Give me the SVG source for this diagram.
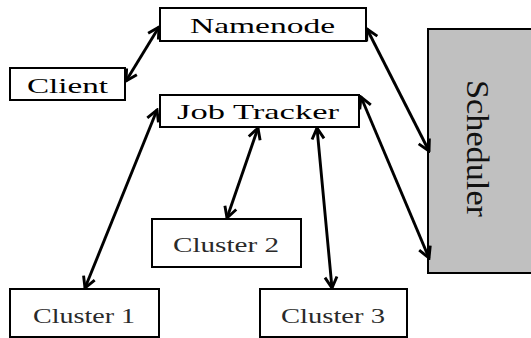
<svg xmlns="http://www.w3.org/2000/svg" width="531" height="338" viewBox="0 0 531 338">
  <style>
    .box { fill: #ffffff; stroke: #000000; stroke-width: 2; }
    .sched { fill: #c0c0c0; stroke: #000000; stroke-width: 2; }
    text { font-family: 'Liberation Serif', 'Times New Roman', serif; }
    .head-label { font-size: 22px; fill: #000000; }
    .cl-label { font-size: 20px; fill: #2a2a2a; }
    .vert { font-size: 32px; fill: #111111; }
    .conn { stroke: #000000; stroke-width: 2.9; fill: none; marker-start: url(#head); marker-end: url(#head); }
  </style>
  <defs>
    <!-- open chevron head, used at both ends of every connector -->
    <marker id="head" viewBox="0 0 16 16" refX="14" refY="8" markerWidth="16" markerHeight="16" markerUnits="userSpaceOnUse" orient="auto-start-reverse">
      <path d="M3,2 L14,8 L3,14" fill="none" stroke="#000000" stroke-width="2.9" stroke-linejoin="miter"/>
    </marker>
  </defs>

  <g id="scheduler">
    <rect class="sched" x="428" y="29" width="104" height="244"/>
    <text class="vert" transform="translate(467,80) rotate(90)" textLength="137" lengthAdjust="spacingAndGlyphs">Scheduler</text>
  </g>

  <g id="namenode">
    <rect class="box" x="160" y="8" width="206" height="33"/>
    <text class="head-label" x="190" y="33" textLength="145" lengthAdjust="spacingAndGlyphs">Namenode</text>
  </g>

  <g id="client">
    <rect class="box" x="10" y="68" width="115" height="32"/>
    <text class="head-label" x="27" y="93" textLength="81" lengthAdjust="spacingAndGlyphs">Client</text>
  </g>

  <g id="jobtracker">
    <rect class="box" x="160" y="95" width="199" height="32"/>
    <text class="head-label" x="177" y="119" textLength="162" lengthAdjust="spacingAndGlyphs">Job Tracker</text>
  </g>

  <g id="cluster2">
    <rect class="box" x="152" y="219" width="149" height="48"/>
    <text class="cl-label" x="173" y="252" textLength="106" lengthAdjust="spacingAndGlyphs">Cluster 2</text>
  </g>

  <g id="cluster1">
    <rect class="box" x="10" y="289" width="149" height="48"/>
    <text class="cl-label" x="33" y="323" textLength="102" lengthAdjust="spacingAndGlyphs">Cluster 1</text>
  </g>

  <g id="cluster3">
    <rect class="box" x="260" y="289" width="147" height="48"/>
    <text class="cl-label" x="281" y="323" textLength="104" lengthAdjust="spacingAndGlyphs">Cluster 3</text>
  </g>

  <g id="connectors">
    <line class="conn" x1="126" y1="81" x2="159" y2="27"/>
    <line class="conn" x1="367" y1="29" x2="429" y2="151"/>
    <line class="conn" x1="361" y1="97" x2="429" y2="258"/>
    <line class="conn" x1="157" y1="110" x2="85" y2="288"/>
    <line class="conn" x1="258" y1="128" x2="227" y2="218"/>
    <line class="conn" x1="317" y1="128" x2="332" y2="288"/>
  </g>
</svg>
